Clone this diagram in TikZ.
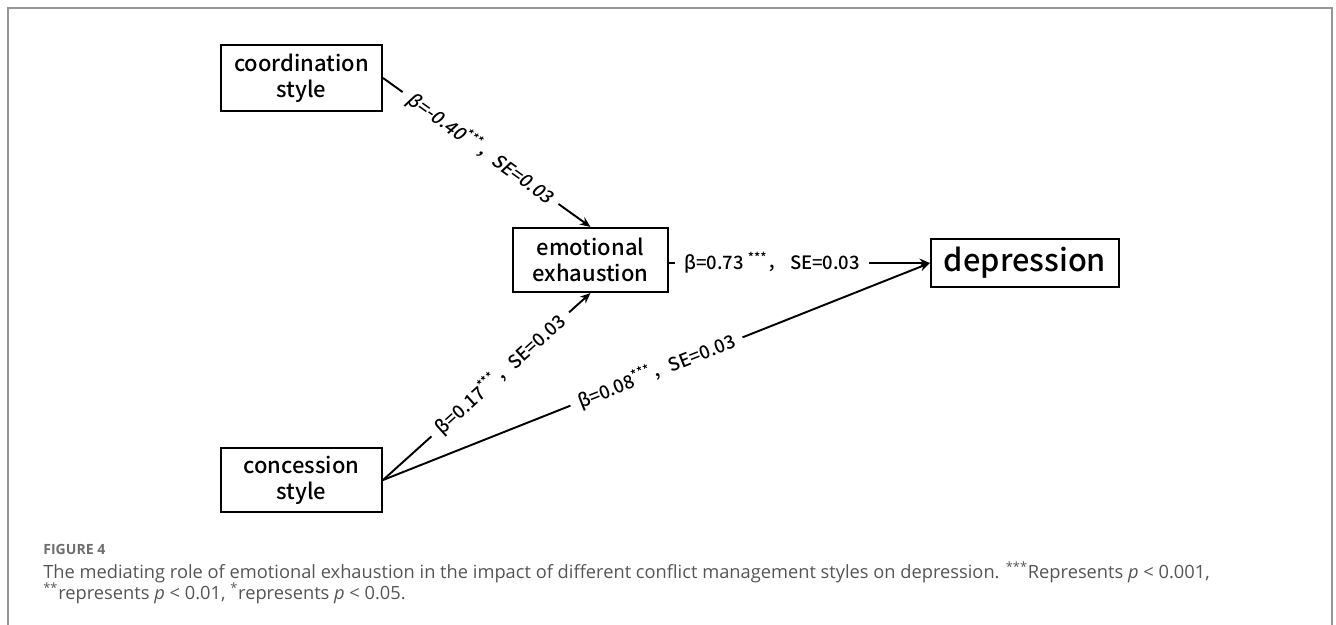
\documentclass[tikz,border=0pt]{standalone}
\usepackage{fontspec}
\setmainfont{Open Sans}
\newfontfamily\diafont{Noto Sans CJK SC Medium}
\newfontfamily\diabox{Noto Sans CJK SC Medium}
\newfontfamily\diaslant{Noto Sans CJK SC Medium}[FakeSlant=0.2]
\usetikzlibrary{arrows.meta}
\definecolor{capgray}{RGB}{85,85,85}
\definecolor{numgray}{RGB}{110,110,110}
\definecolor{framegray}{RGB}{150,150,150}

\begin{document}
\begin{tikzpicture}[x=0.02cm, y=-0.02cm,
		box/.style={draw, line width=1.2pt, inner sep=0pt, align=center,
			font=\diabox\fontsize{12.5}{14.8}\selectfont},
		effect/.style={-{Stealth[length=6pt,width=5pt]}, line width=1.1pt},
		coef/.style={sloped, fill=white, inner xsep=5pt, inner ysep=2pt,
			font=\diafont\fontsize{10.5}{12}\selectfont},
		caption/.style={anchor=base west, inner sep=0pt, text=capgray,
			font=\fontsize{10.4}{12}\selectfont}]
				\useasboundingbox (0, 0) rectangle (1336, 625);
				% frame of the figure
				\draw [framegray, line width=0.8pt] (8, 625) -- (8, 8) -- (1332, 8) -- (1332, 625);

				\node (coord) at (301.5, 78) [box, minimum width=3.22cm, minimum height=1.32cm] {coordination\\style};
				\node (emo) at (590.5, 260) [box, minimum width=3.10cm, minimum height=1.28cm] {emotional\\exhaustion};
				\node (dep) at (1025, 263) [box, minimum width=3.76cm, minimum height=0.96cm,
					font=\diabox\fontsize{17.5}{20}\selectfont] {depression};
				\node (conc) at (301.5, 480) [box, minimum width=3.22cm, minimum height=1.28cm] {concession\\style};

				\draw [effect] (coord.east) to node [coef, pos=0.47, font=\diaslant\fontsize{10.5}{12}\selectfont]
					{β=-0.40\textsuperscript{***}，SE=0.03} (emo.north);
				\draw [effect] (emo.east |- dep.west) to node [coef, pos=0.395]
					{β=0.73 \textsuperscript{***}， SE=0.03} (dep.west);
				\draw [effect] (conc.east) to node [coef, pos=0.565]
					{β=0.17\textsuperscript{***}，SE=0.03} (emo.south);
				\draw [effect] (conc.east) to node [coef, pos=0.5]
					{β=0.08\textsuperscript{***}，SE=0.03} (dep.west);

				% caption
				\node (fignum) at (43, 554) [caption, text=numgray, font=\bfseries\fontsize{8}{10}\selectfont] {FIGURE 4};
				\node (capline1) at (43, 578) [caption] {The mediating role of emotional exhaustion in the impact of different conflict management styles on depression. \textsuperscript{***}Represents \textit{p} < 0.001,};
				\node (capline2) at (43, 599) [caption] {\textsuperscript{**}represents \textit{p} < 0.01, \textsuperscript{*}represents \textit{p} < 0.05.};
		\end{tikzpicture}
\end{document}
